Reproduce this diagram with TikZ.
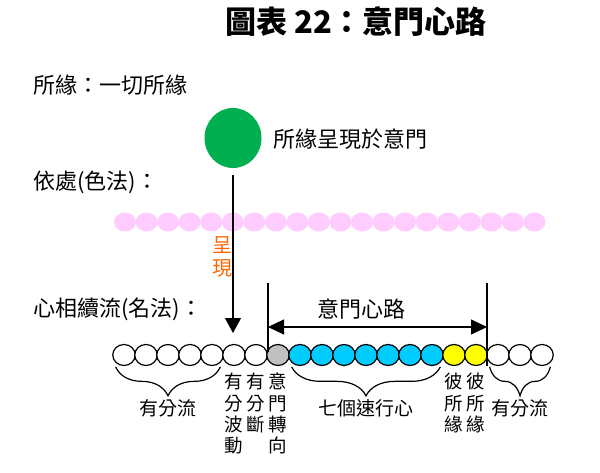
\documentclass[tikz,border=0pt]{standalone}
\usepackage{fontspec}
\setmainfont{Noto Sans CJK TC}
\usetikzlibrary{arrows.meta,positioning,shapes.geometric,decorations.pathreplacing}
\definecolor{yuangreen}{HTML}{00B050}
\definecolor{basepink}{HTML}{FFCCFF}
\definecolor{turngray}{HTML}{C0C0C0}
\definecolor{javcyan}{HTML}{00CCFF}
\definecolor{tadyellow}{HTML}{FFFF00}
\definecolor{showorange}{HTML}{FF6600}

\begin{document}
\begin{tikzpicture}[x=1pt,y=-1pt,
  txt/.style={inner sep=0pt,anchor=west,font=\fontsize{22}{24}\selectfont},
  small/.style={inner sep=0pt,font=\fontsize{19}{21}\selectfont},
  vlabel/.style={small,anchor=north,align=center,font=\fontsize{18.5}{21.3}\selectfont},
  bead/.style={ellipse,draw,line width=1.2pt,minimum width=22.5pt,minimum height=21pt,inner sep=0pt},
  pinkbead/.style={ellipse,fill=basepink,minimum width=22pt,minimum height=19pt,inner sep=0pt},
  arrow/.style={-{Triangle[length=15pt,width=16pt]},line width=1.2pt},
  dblarrow/.style={{Triangle[length=16pt,width=15pt]}-{Triangle[length=16pt,width=15pt]},line width=1.2pt},
  bracedown/.style={decorate,decoration={brace,mirror,amplitude=29pt},line width=1.2pt}
]
\useasboundingbox (0,0) rectangle (600,473);
% title and row labels
\node[inner sep=0pt,font=\fontsize{31}{33}\selectfont\bfseries] (title) at (356,22) {圖表 22：意門心路};
\node[txt] (object) at (33,85) {所緣：一切所緣};
\node[txt] (base) at (33,182) {依處(色法)：};
\node[txt] (stream) at (33,309) {心相續流(名法)：};
% the object and its basis
\node[ellipse,fill=yuangreen,minimum width=57pt,minimum height=60pt,inner sep=0pt] (yuan) at (233,138) {};
\node[txt] (appear) at (273,139) {所緣呈現於意門};
\foreach \i in {1,...,20}
  \node[pinkbead] (p\i) at ({125+(\i-1)*21.55},222) {};
% the stream of mind
\foreach \c [count=\i] in {white,white,white,white,white,white,white,turngray,
  javcyan,javcyan,javcyan,javcyan,javcyan,javcyan,javcyan,tadyellow,tadyellow,white,white,white}
  \node[bead,fill=\c] (c\i) at ({124+(\i-1)*22},355) {};
\coordinate (tip) at (233,333);
\draw[arrow,shorten <=7pt] (yuan.south) -- (tip);
\node[small,anchor=north,align=center,text=showorange,font=\fontsize{20}{23}\selectfont] (show) at (222,236) {呈\\現};
% the door-process span
\coordinate (ltop) at (268,283);
\coordinate (lbot) at (268,352);
\coordinate (rtop) at (487,283);
\coordinate (rbot) at (487,366);
\draw[line width=1.2pt] (ltop) -- (lbot);
\draw[line width=1.2pt] (rtop) -- (rbot);
\coordinate (la) at (268,327);
\coordinate (ra) at (487,327);
\draw[dblarrow] (la) -- (ra);
\node[txt,anchor=center] (path) at (361,309) {意門心路};
% braces and labels below
\draw[bracedown] ([yshift=-4pt]c1.south west) -- ([yshift=-4pt]c5.south east) node[small,midway,below=32pt] (bh1) {有分流};
\draw[bracedown] ([yshift=-4pt]c9.south west) -- ([yshift=-4pt]c15.south east) node[small,midway,below=32pt] (jav) {七個速行心};
\draw[bracedown] ([yshift=-4pt]c18.south west) -- ([yshift=-4pt]c20.south east) node[small,midway,below=32pt] (bh2) {有分流};
\node[vlabel] (vib) at (c6.south |- 0,373) {有\\分\\波\\動};
\node[vlabel] (arr) at (c7.south |- 0,373) {有\\分\\斷};
\node[vlabel] (turn) at (c8.south |- 0,373) {意\\門\\轉\\向};
\node[vlabel] (tad1) at (c16.south |- 0,373) {彼\\所\\緣};
\node[vlabel] (tad2) at (c17.south |- 0,373) {彼\\所\\緣};
\end{tikzpicture}
\end{document}
